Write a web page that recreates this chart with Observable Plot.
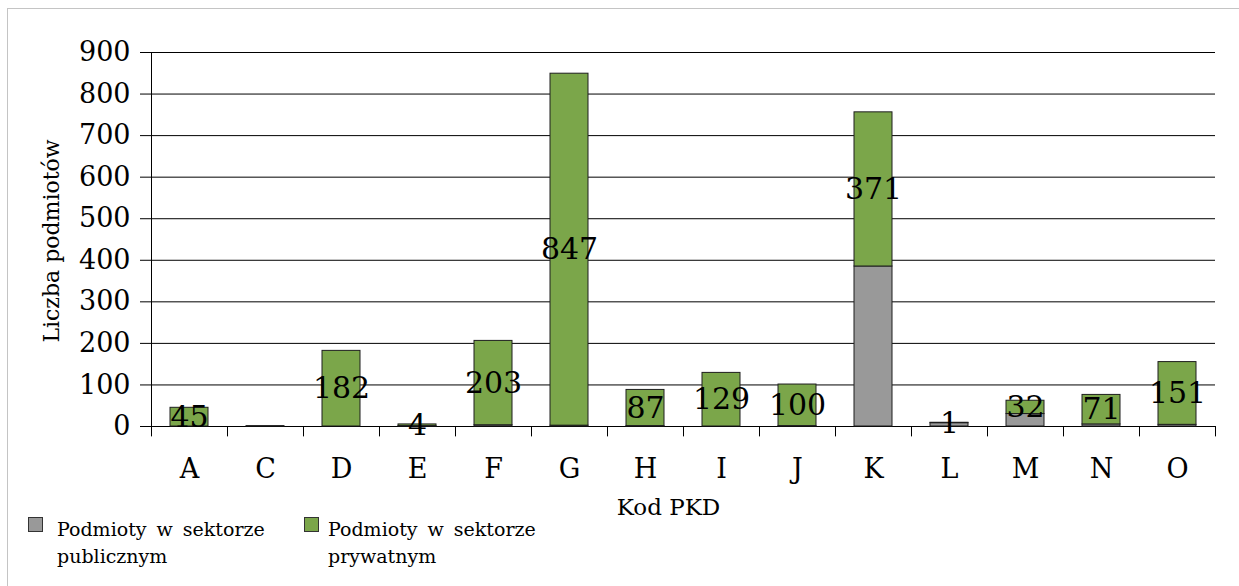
<!DOCTYPE html>
<html>
<head>
<meta charset="utf-8">
<script src="https://cdn.jsdelivr.net/npm/d3@7"></script>
<script src="https://cdn.jsdelivr.net/npm/@observablehq/plot@0.6"></script>
<style>
  html, body { margin: 0; padding: 0; background: #fff; }
  #wrap { position: relative; width: 1239px; height: 586px; overflow: hidden; font-family: "DejaVu Serif", serif; }
  #frame { position: absolute; left: 7px; top: 8px; width: 1300px; height: 700px; border-left: 1px solid #c4c4c4; border-top: 1px solid #c4c4c4; }
  #chart { position: absolute; left: 0; top: 0; }
  #ylab { position: absolute; left: 51px; top: 241px; transform: translate(-50%, -50%) rotate(-90deg); font-size: 22px; white-space: nowrap; color: #000; }
  .leg { position: absolute; font-size: 19px; line-height: 27px; color: #000; word-spacing: 4px; }
  .sw { position: absolute; width: 13px; height: 13px; border: 1px solid #333; }
</style>
</head>
<body>
<div id="wrap">
  <div id="frame"></div>
  <div id="chart"></div>
  <div id="ylab"></div>
  <div class="sw" id="sw0" style="left:28px; top:517px;"></div>
  <div class="leg" id="lg0" style="left:57px; top:516px;"></div>
  <div class="sw" id="sw1" style="left:304px; top:517px;"></div>
  <div class="leg" id="lg1" style="left:328px; top:516px;"></div>
</div>
<script>
const categories = ["A","C","D","E","F","G","H","I","J","K","L","M","N","O"];
const publicValues = [0, 1, 0, 1, 3, 2, 1, 0, 1, 385, 8, 30, 5, 4];
const privateValues = [45, 0, 182, 4, 203, 847, 87, 129, 100, 371, 1, 32, 71, 151];
const yTicks = [0, 100, 200, 300, 400, 500, 600, 700, 800, 900];
const seriesNames = ["Podmioty w sektorze publicznym", "Podmioty w sektorze prywatnym"];
const seriesColors = ["#999999", "#7ba64a"];
const yLabel = "Liczba podmiotów";
const xLabel = "Kod PKD";

const rows = [];
categories.forEach((c, i) => {
  rows.push({cat: c, series: seriesNames[0], value: publicValues[i]});
  rows.push({cat: c, series: seriesNames[1], value: privateValues[i]});
});
const labelRows = categories.map((c, i) => ({cat: c, pub: publicValues[i], priv: privateValues[i]}))
  .filter(d => d.priv > 0);

const chart = Plot.plot({
  width: 1239,
  height: 526,
  marginTop: 52,
  marginBottom: 100,
  marginLeft: 151,
  marginRight: 24,
  style: {fontFamily: "DejaVu Serif, serif", background: "transparent", color: "#000"},
  x: {domain: categories, paddingInner: 0.5, paddingOuter: 0.25, axis: null},
  y: {domain: [0, 900], axis: null},
  color: {domain: seriesNames, range: seriesColors},
  marks: [
    Plot.ruleY(yTicks, {stroke: "#000", strokeWidth: 1}),
    Plot.barY(rows, {x: "cat", y: "value", fill: "series", stroke: "#1e1e1e", strokeWidth: 1}),
    Plot.ruleX(categories.slice(0, 1), {x: d => d, dx: -38, y1: 0, y2: 900, stroke: "#000"}),
    Plot.ruleX(categories, {x: d => d, dx: -38, y1: -25, y2: 0, stroke: "#000"}),
    Plot.ruleX(categories.slice(-1), {x: d => d, dx: 38, y1: -25, y2: 0, stroke: "#000"}),
    Plot.axisY({ticks: yTicks, tickSize: 11, tickPadding: 10, fontSize: 27, label: null, tickFormat: d => String(d), stroke: "#000"}),
    Plot.axisX({tickSize: 0, tickPadding: 32, fontSize: 27, label: null}),
    Plot.text(labelRows, {x: "cat", y: d => d.pub + d.priv / 2, text: d => String(d.priv), fontSize: 30, fill: "#000"}),
    Plot.text([xLabel], {frameAnchor: "bottom", dx: -15, dy: 88, text: d => d, fontSize: 23, fill: "#000"})
  ]
});
document.getElementById("chart").appendChild(chart);
document.getElementById("ylab").textContent = yLabel;

// legend
const parts = seriesNames.map(n => {
  const words = n.split(" ");
  return [words.slice(0, 3).join(" "), words.slice(3).join(" ")];
});
["0", "1"].forEach((k, i) => {
  document.getElementById("sw" + k).style.background = seriesColors[i];
  const el = document.getElementById("lg" + k);
  el.innerHTML = parts[i][0] + "<br>" + parts[i][1];
});
</script>
</body>
</html>
